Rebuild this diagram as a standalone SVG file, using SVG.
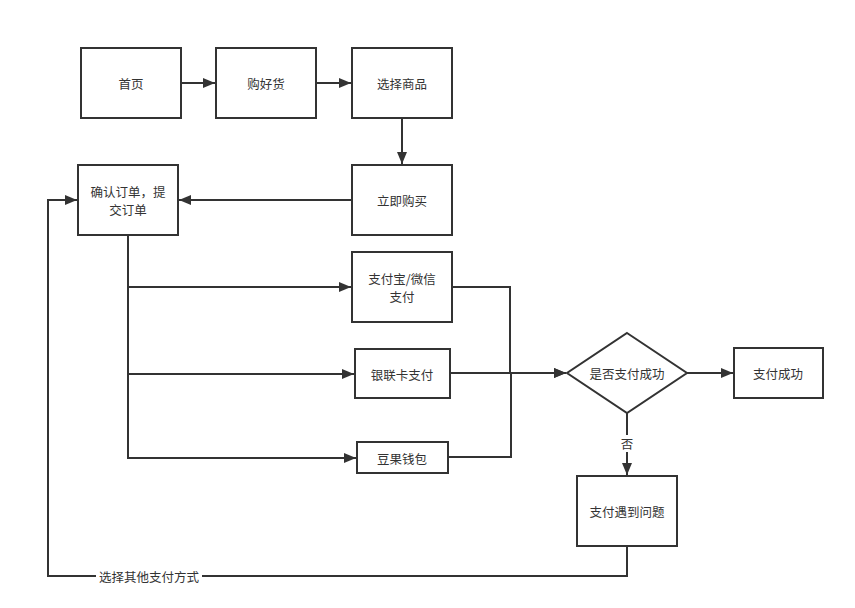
<svg xmlns="http://www.w3.org/2000/svg" width="855" height="608" viewBox="0 0 855 608">
<style>
.box{fill:#fff;stroke:#333;stroke-width:2}
.t{font-family:"Noto Sans CJK SC","Liberation Sans",sans-serif;font-size:12.5px;fill:#333;text-anchor:middle;dominant-baseline:central}
.c{fill:none;stroke:#333;stroke-width:2}
</style>
<defs>
<marker id="a" markerUnits="userSpaceOnUse" markerWidth="12" markerHeight="10" refX="12" refY="5" orient="auto"><path d="M0,0 L12,5 L0,10 z" fill="#333"/></marker>
</defs>
<rect width="855" height="608" fill="#fff"/>
<g id="connectors">
<path class="c" d="M181,83 H215" marker-end="url(#a)"/>
<path class="c" d="M316,83 H351" marker-end="url(#a)"/>
<path class="c" d="M402,118 V164" marker-end="url(#a)"/>
<path class="c" d="M352,200 H179" marker-end="url(#a)"/>
<path class="c" d="M128,235 V458 H356" marker-end="url(#a)"/>
<path class="c" d="M128,287 H351" marker-end="url(#a)"/>
<path class="c" d="M128,374 H354" marker-end="url(#a)"/>
<path class="c" d="M452,287 H510 V373 H566" marker-end="url(#a)"/>
<path class="c" d="M450,373 H566" marker-end="url(#a)"/>
<path class="c" d="M448,457 H511 V373"/>
<path class="c" d="M687,373 H733" marker-end="url(#a)"/>
<path class="c" d="M627,413 V475" marker-end="url(#a)"/>
<path class="c" d="M627,546 V576 H48 V200 H77" marker-end="url(#a)"/>
<rect x="619" y="435" width="16" height="17" fill="#fff"/>
<text class="t" x="627" y="443">否</text>
<rect x="96" y="568" width="106" height="16" fill="#fff"/>
<text class="t" x="149" y="576">选择其他支付方式</text>
</g>
<g id="n1"><rect class="box" x="81" y="48" width="100" height="70"/><text class="t" x="131" y="83">首页</text></g>
<g id="n2"><rect class="box" x="216" y="48" width="100" height="70"/><text class="t" x="266" y="83">购好货</text></g>
<g id="n3"><rect class="box" x="352" y="48" width="100" height="70"/><text class="t" x="402" y="83">选择商品</text></g>
<g id="n4"><rect class="box" x="352" y="165" width="100" height="70"/><text class="t" x="402" y="200">立即购买</text></g>
<g id="n5"><rect class="box" x="78" y="165" width="100" height="70"/><text class="t" x="128" y="191">确认订单，提</text><text class="t" x="128" y="209">交订单</text></g>
<g id="n6"><rect class="box" x="352" y="252" width="100" height="70"/><text class="t" x="402" y="278">支付宝/微信</text><text class="t" x="402" y="296">支付</text></g>
<g id="n7"><rect class="box" x="355" y="349" width="95" height="49"/><text class="t" x="402" y="374">银联卡支付</text></g>
<g id="n8"><rect class="box" x="357" y="442" width="91" height="31"/><text class="t" x="402" y="458">豆果钱包</text></g>
<g id="n9"><path class="box" d="M627,333 L687,373 L627,413 L567,373 z"/><text class="t" x="627" y="373">是否支付成功</text></g>
<g id="n10"><rect class="box" x="734" y="348" width="89" height="50"/><text class="t" x="778" y="373">支付成功</text></g>
<g id="n11"><rect class="box" x="577" y="476" width="100" height="70"/><text class="t" x="627" y="511">支付遇到问题</text></g>
</svg>
